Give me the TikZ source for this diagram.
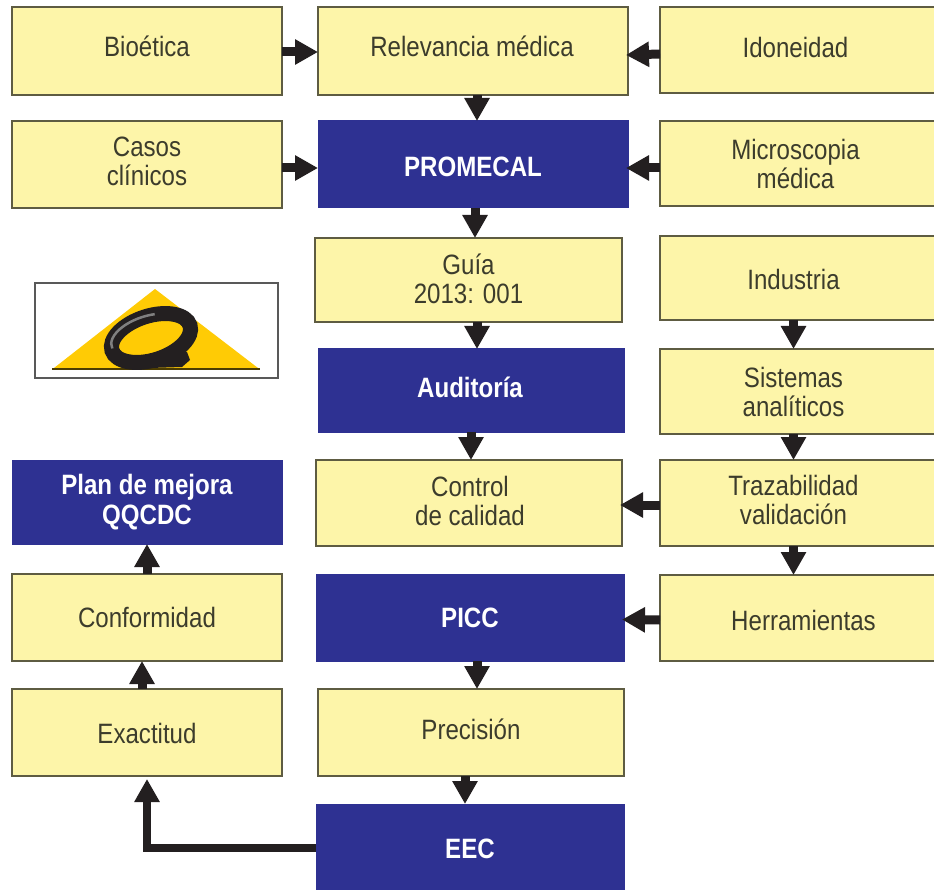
\documentclass[tikz,border=0pt]{standalone}
\usepackage{fontspec}
\setmainfont[FakeStretch=0.86]{Liberation Sans}
\usetikzlibrary{arrows.meta,calc}
\definecolor{boxy}{HTML}{FDF5A9}
\definecolor{boxline}{HTML}{5E5C42}
\definecolor{boxb}{HTML}{2E3192}
\definecolor{ink}{HTML}{3C3C2C}
\definecolor{arrowk}{HTML}{231F20}
\definecolor{logoy}{HTML}{FFCB05}
\tikzset{
  x=1pt,y=-1pt,
  ybox/.style={draw=boxline,line width=1.4pt,fill=boxy,text=ink,font=\fontsize{28}{29}\selectfont,inner sep=0pt,outer sep=0pt},
  bbox/.style={draw=boxb,line width=1pt,fill=boxb,text=white,font=\fontsize{28}{30}\selectfont\bfseries,inner sep=0pt,outer sep=0pt},
  arr/.style={draw=arrowk,line width=9pt,-{Triangle[width=24pt,length=23pt]}},
  bentarr/.style={draw=arrowk,line width=8pt,-{Triangle[width=24pt,length=23pt]}}
}
\newbox\txtbox
% text placed with an offset (right, down) from the centre of its box
\newcommand{\tx}[3]{\setbox\txtbox=\hbox{\begin{tabular}{@{}c@{}}#3\end{tabular}}%
  \ht\txtbox=\dimexpr\ht\txtbox+#2pt\relax \dp\txtbox=\dimexpr\dp\txtbox-#2pt\relax
  \hbox{\kern\dimexpr 2\dimexpr#1pt\relax\relax\box\txtbox}}
\newcommand{\bx}[9]{\node[#2,minimum width={(#5-#3)*1pt},minimum height={(#6-#4)*1pt}] (#1) at ({(#3+#5)/2},{(#4+#6)/2}) {\tx{#7}{#8}{#9}};}
\begin{document}
\begin{tikzpicture}
\useasboundingbox (0,0) rectangle (934,890);
\clip (0,0) rectangle (934,890);
\fill[white] (0,0) rectangle (934,890);
\bx{bio}{ybox}{12}{7}{282}{95}{0}{0}{Bioética}
\bx{rel}{ybox}{318}{7}{628}{95}{-1}{0}{Relevancia médica}
\bx{ido}{ybox}{660}{7}{945}{93}{-7}{2}{Idoneidad}
\bx{cas}{ybox}{12}{121}{282}{208}{0}{0.5}{Casos\\clínicos}
\bx{pro}{bbox}{318}{121}{628}{208}{0}{6}{PROMECAL}
\bx{mic}{ybox}{660}{121}{945}{206}{-7}{5}{Microscopia\\médica}
\bx{gui}{ybox}{315}{238}{622}{322}{0}{3.5}{Guía\\2013: 001}
\bx{ind}{ybox}{660}{236}{945}{320}{-9}{6}{Industria}
\bx{aud}{bbox}{318}{349}{624}{432}{-1}{1}{Auditoría}
\bx{sis}{ybox}{660}{349}{945}{434}{-9}{4.5}{Sistemas\\analíticos}
\bx{pla}{bbox}{12}{460}{282}{544}{0}{1}{Plan de mejora\\QQCDC}
\bx{con}{ybox}{316}{460}{622}{546}{1}{2.5}{Control\\de calidad}
\bx{tra}{ybox}{660}{460}{945}{546}{-9}{1.5}{Trazabilidad\\validación}
\bx{cnf}{ybox}{12}{574}{282}{661}{0}{4}{Conformidad}
\bx{pic}{bbox}{316}{574}{624}{661}{0}{4}{PICC}
\bx{her}{ybox}{660}{575}{945}{661}{1}{7}{Herramientas}
\bx{exa}{ybox}{12}{689}{282}{776}{0}{5}{Exactitud}
\bx{pre}{ybox}{318}{689}{624}{776}{0}{1}{Precisión}
\bx{eec}{bbox}{316}{804}{624}{900}{0}{0}{EEC}
% connectors
\draw[arr] ([yshift=-1]bio.east) -- ([yshift=-1]rel.west);
\draw[arr] ([yshift=-4]ido.west) -- ([yshift=-4,xshift=-2]rel.east);
\draw[arr] ([xshift=4]rel.south) -- ([xshift=4]pro.north);
\draw[arr] ([yshift=-3.5]cas.east) -- ([yshift=-3.5]pro.west);
\draw[arr] ([yshift=-4.5]mic.west) -- ([yshift=-3.5,xshift=-2]pro.east);
\draw[arr] ([xshift=2]pro.south) -- ([xshift=2]pro.south|-gui.north);
\draw[arr] ([xshift=8.5]gui.south) -- ([xshift=8.5]gui.south|-aud.north);
\draw[arr] (aud.south) -- (aud.south|-con.north);
\draw[arr] ([xshift=-9]ind.south) -- ([xshift=-9]sis.north);
\draw[arr] ([xshift=-9]sis.south) -- ([xshift=-9]tra.north);
\draw[arr] ([xshift=-9]tra.south) -- ([xshift=-9]her.north);
\draw[arr] ([yshift=-2]tra.west) -- ([yshift=-2,xshift=-2]con.east);
\draw[arr] ([yshift=-2]her.west) -- ([yshift=-2,xshift=-2]pic.east);
\draw[arr] ([xshift=7]pic.south) -- ([xshift=7]pic.south|-pre.north);
\draw[arr] ([xshift=-6]pre.south) -- ([xshift=-6]pre.south|-eec.north);
\draw[arr] ([xshift=-5]exa.north) -- ([xshift=-5]cnf.south);
\draw[arr] (cnf.north) -- (pla.south);
\coordinate (bend) at (316,848);
\draw[bentarr] (bend) -| ([yshift=-3]exa.south);
% logo
\node[draw=black!65,line width=1.2pt,fill=white,minimum width=243pt,minimum height=95pt,inner sep=0,outer sep=0] (logo) at (156.5,330.5) {};
\fill[logoy] (155,289) -- (258,368) -- (54,368) -- cycle;
\draw[black!70!logoy,line width=2.2pt] (52,369) -- (260,369);
\draw[arrowk,line width=15pt,rotate around={18:(151,338)}] (151,338) ellipse [x radius=41,y radius=22];
\draw[black!50,line width=2.5pt,rotate around={18:(151,338)}] (111,336) arc[start angle=175,end angle=290,x radius=38,y radius=19];
\fill[arrowk] (150,368) -- (182,367) -- (190,360) -- (187,352) -- (170,352) -- cycle;
\end{tikzpicture}
\end{document}
